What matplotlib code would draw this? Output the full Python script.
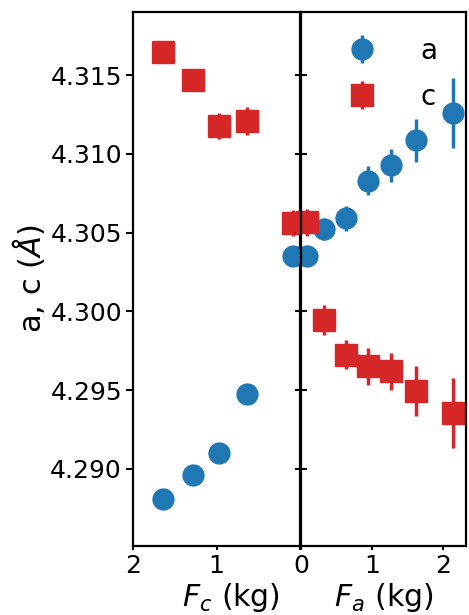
import matplotlib
matplotlib.use("Agg")
import matplotlib.pyplot as plt

# ---------------- datos ----------------
# panel izquierdo: carga a lo largo de c (eje invertido)
Fc = [1.64, 1.28, 0.97, 0.64, 0.08]
a_Fc = [4.28809, 4.28962, 4.29099, 4.29473, 4.30348]
a_Fc_err = [0.0002, 0.0002, 0.0002, 0.0002, 0.0002]
c_Fc = [4.31648, 4.31468, 4.31176, 4.31208, 4.30560]
c_Fc_err = [0.0007, 0.0007, 0.00085, 0.00087, 0.00085]

# panel derecho: carga a lo largo de a
Fa = [0.09, 0.33, 0.63, 0.94, 1.27, 1.62, 2.14]
a_Fa = [4.30348, 4.30522, 4.30591, 4.30830, 4.30926, 4.31085, 4.31258]
a_Fa_err = [0.0002, 0.0007, 0.0008, 0.00093, 0.00107, 0.00135, 0.00222]
c_Fa = [4.30564, 4.29947, 4.29725, 4.29651, 4.29619, 4.29492, 4.29354]
c_Fa_err = [0.00085, 0.00095, 0.0009, 0.00116, 0.00119, 0.00159, 0.00222]

yticks = [4.290, 4.295, 4.300, 4.305, 4.310, 4.315]

blue = "#1f77b4"
red = "#d62728"

fig = plt.figure(figsize=(4.69, 6.15), dpi=100)
axL = fig.add_axes([0.2836, 0.1122, 0.3561, 0.8683])
axR = fig.add_axes([0.6418, 0.1122, 0.3518, 0.8683], sharey=axL)

kw = dict(ls="none", elinewidth=2.5, capsize=0, clip_on=False)

axL.errorbar(Fc, a_Fc, yerr=a_Fc_err, marker="o", ms=15, color=blue, **kw)
axL.errorbar(Fc, c_Fc, yerr=c_Fc_err, marker="s", ms=16, color=red, **kw)
axR.errorbar(Fa, a_Fa, yerr=a_Fa_err, marker="o", ms=15, color=blue, label="a", **kw)
axR.errorbar(Fa, c_Fa, yerr=c_Fa_err, marker="s", ms=16, color=red, label="c", **kw)

axL.set_xlim(2, 0)
axR.set_xlim(0, 2.32)
axL.set_ylim(4.2851, 4.3190)
axL.set_yticks(yticks)
axL.set_yticklabels(["%.3f" % v for v in yticks])
axL.set_xticks([2, 1, 0])
axL.set_xticklabels(["2", "1", ""])
axR.set_xticks([0, 1, 2])

for ax in (axL, axR):
    for s in ax.spines.values():
        s.set_linewidth(1.6)
    ax.tick_params(labelsize=18, width=1.5, length=5, pad=3)
    ax.tick_params(axis="x", length=3)

axR.tick_params(axis="y", left=True, labelleft=False, direction="inout", length=9)

axL.set_ylabel("a, c ($Å$)", fontsize=22, labelpad=2)
axL.set_xlabel("$F_c$ (kg)", fontsize=21.5)
axL.xaxis.set_label_coords(0.587, -0.066, transform=axL.transAxes)
axR.set_xlabel("$F_a$ (kg)", fontsize=21.5)
axR.xaxis.set_label_coords(0.5, -0.066, transform=axR.transAxes)

axR.legend(loc="upper right", frameon=False, fontsize=20, handlelength=1.2,
           handletextpad=1.5, labelspacing=0.65, bbox_to_anchor=(0.98, 1.0))

fig.savefig("out.png", dpi=100)
